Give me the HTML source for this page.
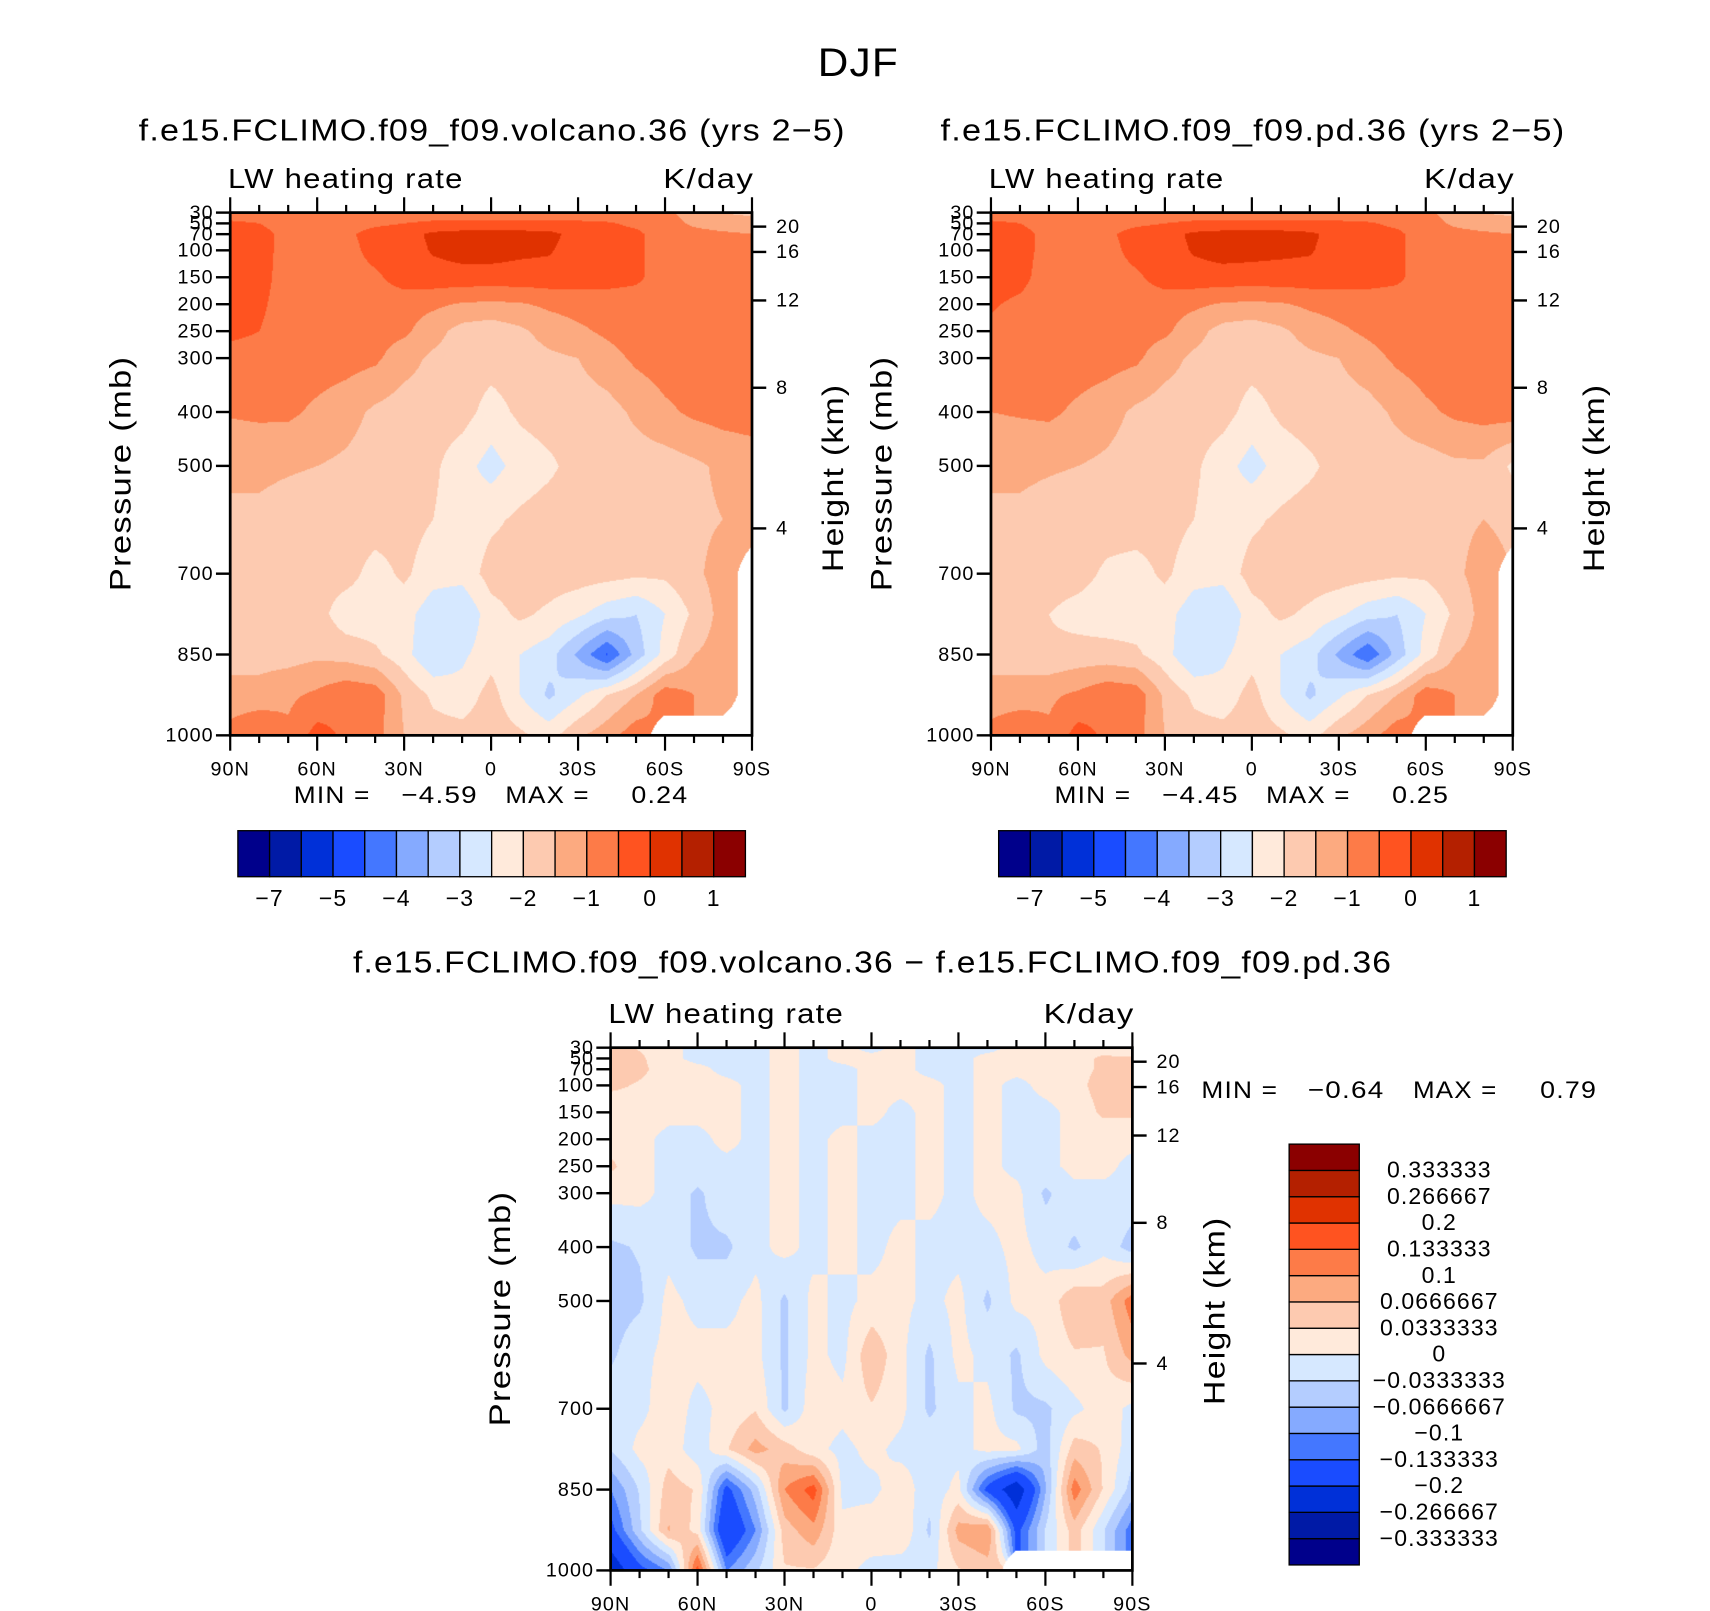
<!DOCTYPE html>
<html><head><meta charset="utf-8">
<style>
html,body{margin:0;padding:0;background:#fff;width:1710px;height:1611px;overflow:hidden;}
#root{position:absolute;left:0;top:0;width:1560px;height:1470px;transform-origin:0 0;transform:scale(1.0962,1.0959);}
canvas{position:absolute;}
svg{position:absolute;left:0;top:0;}
text{font-family:"Liberation Sans",sans-serif;fill:#000;letter-spacing:1px;}
</style></head>
<body>
<div id="root">
<canvas id="cL" width="476" height="477" style="left:210px;top:194px"></canvas>
<canvas id="cR" width="476" height="477" style="left:904px;top:194px"></canvas>
<canvas id="cD" width="476" height="477" style="left:557px;top:956px"></canvas>
<svg id="ov" width="1560" height="1470" viewBox="0 0 1560 1470"></svg>
</div>
<script>
// ---- data ----
const lats = [90,80,70,60,50,40,30,20,10,0,-10,-20,-30,-40,-50,-60,-70,-80,-90];
const latTickLabels = ["90N","60N","30N","0","30S","60S","90S"];
const presLevels = [30,50,70,100,150,200,250,300,400,500,600,700,775,850,925,1000];
const presTickLabels = [30,50,70,100,150,200,250,300,400,500,700,850,1000];
const heightTickLabels = [20,16,12,8,4];
const heightTickPres = [56,103,193,355,616];
const N = NaN;
const volcanoValues = [
[-0.8,-0.8,-0.8,-0.8,-0.8,-0.8,-0.8,-0.8,-0.8,-0.8,-0.8,-0.8,-0.8,-0.8,-0.8,-0.9,-1.2,-1.5,-1.6],
[-0.4,-0.5,-0.75,-0.75,-0.75,-0.6,-0.5,-0.4,-0.4,-0.4,-0.4,-0.4,-0.4,-0.45,-0.6,-0.75,-1.1,-1.3,-1.3],
[-0.25,-0.3,-0.7,-0.75,-0.6,-0.3,-0.2,0.1,0.2,0.2,0.2,0.15,-0.2,-0.3,-0.4,-0.75,-0.8,-0.9,-1.0],
[-0.25,-0.3,-0.7,-0.75,-0.7,-0.3,-0.25,0.05,0.2,0.2,0.1,0.05,-0.25,-0.3,-0.4,-0.75,-0.75,-0.75,-0.75],
[-0.25,-0.3,-0.75,-0.75,-0.75,-0.6,-0.25,-0.2,-0.2,-0.2,-0.2,-0.2,-0.25,-0.3,-0.4,-0.75,-0.75,-0.75,-0.75],
[-0.25,-0.4,-0.75,-0.75,-0.75,-0.75,-0.8,-0.9,-1.05,-1.1,-1.05,-0.9,-0.8,-0.75,-0.75,-0.75,-0.75,-0.75,-0.75],
[-0.35,-0.5,-0.75,-0.75,-0.75,-0.8,-0.9,-1.3,-1.7,-1.8,-1.6,-1.3,-1.1,-0.9,-0.75,-0.75,-0.75,-0.75,-0.75],
[-0.75,-0.75,-0.75,-0.75,-0.8,-0.9,-1.3,-1.6,-1.75,-1.8,-1.75,-1.6,-1.5,-1.2,-0.9,-0.75,-0.75,-0.75,-0.75],
[-0.95,-0.9,-0.9,-1.1,-1.3,-1.6,-1.75,-1.75,-1.8,-2.2,-1.9,-1.75,-1.75,-1.7,-1.4,-1.1,-0.9,-0.8,-0.75],
[-1.4,-1.4,-1.45,-1.5,-1.6,-1.75,-1.8,-1.9,-2.3,-2.7,-2.3,-2.1,-1.8,-1.75,-1.75,-1.75,-1.6,-1.4,-1.3],
[-1.6,-1.6,-1.7,-1.75,-1.75,-1.75,-1.8,-2.0,-2.3,-2.1,-1.9,-1.75,-1.75,-1.75,-1.75,-1.7,-1.6,-1.5,-1.45],
[-1.75,-1.75,-1.75,-1.8,-1.8,-2.2,-1.9,-2.3,-2.3,-1.8,-1.75,-1.75,-1.75,-1.8,-1.9,-1.9,-1.6,-1.3,N],
[-1.75,-1.75,-2.0,-1.8,-2.3,-2.3,-2.3,-2.8,-3.0,-2.2,-1.9,-2.1,-2.4,-2.8,-3.0,-2.5,-1.9,-1.3,N],
[-1.7,-1.7,-1.7,-1.6,-1.7,-1.9,-2.3,-3.0,-2.6,-2.2,-2.5,-2.8,-3.6,-4.55,-3.3,-2.3,-1.5,-1.3,N],
[-1.3,-1.3,-1.1,-0.9,-0.6,-0.7,-1.6,-2.1,-2.3,-1.8,-2.5,-3.1,-2.6,-2.0,-1.5,-0.7,-1.0,-1.3,N],
[-0.8,-0.5,-0.9,-0.3,-0.6,-0.8,-1.5,-1.8,-1.8,-1.7,-1.9,-2.2,-1.6,-1.2,-0.7,N,N,N,N]];
const pdValues = [
[-0.8,-0.8,-0.8,-0.8,-0.8,-0.8,-0.8,-0.8,-0.8,-0.8,-0.8,-0.8,-0.8,-0.8,-0.8,-0.9,-1.2,-1.5,-1.6],
[-0.4,-0.5,-0.75,-0.75,-0.75,-0.6,-0.5,-0.4,-0.4,-0.4,-0.4,-0.4,-0.4,-0.45,-0.6,-0.75,-1.1,-1.3,-1.3],
[-0.25,-0.3,-0.7,-0.75,-0.6,-0.3,-0.2,0.1,0.2,0.2,0.2,0.1,-0.2,-0.3,-0.4,-0.75,-0.8,-0.9,-1.0],
[-0.25,-0.3,-0.7,-0.75,-0.7,-0.3,-0.25,0.05,0.2,0.15,0.1,0.05,-0.25,-0.3,-0.4,-0.75,-0.75,-0.75,-0.75],
[-0.25,-0.35,-0.75,-0.75,-0.75,-0.6,-0.25,-0.2,-0.2,-0.2,-0.2,-0.2,-0.25,-0.3,-0.4,-0.75,-0.75,-0.75,-0.75],
[-0.45,-0.6,-0.75,-0.75,-0.75,-0.75,-0.8,-0.9,-1.05,-1.1,-1.05,-0.9,-0.8,-0.75,-0.75,-0.75,-0.75,-0.75,-0.75],
[-0.6,-0.7,-0.75,-0.75,-0.75,-0.8,-0.9,-1.3,-1.7,-1.8,-1.6,-1.3,-1.1,-0.9,-0.75,-0.75,-0.75,-0.75,-0.75],
[-0.75,-0.75,-0.75,-0.75,-0.8,-0.9,-1.3,-1.6,-1.75,-1.8,-1.75,-1.6,-1.5,-1.2,-0.9,-0.75,-0.75,-0.75,-0.75],
[-1.0,-0.95,-0.9,-1.1,-1.3,-1.6,-1.75,-1.75,-1.8,-2.2,-1.9,-1.75,-1.75,-1.7,-1.4,-1.1,-0.9,-0.8,-0.75],
[-1.4,-1.4,-1.45,-1.5,-1.6,-1.75,-1.8,-1.9,-2.3,-2.7,-2.3,-2.1,-1.8,-1.75,-1.75,-1.75,-1.6,-1.6,-2.1],
[-1.6,-1.6,-1.7,-1.75,-1.75,-1.75,-1.8,-2.0,-2.3,-2.1,-1.9,-1.75,-1.75,-1.75,-1.75,-1.7,-1.6,-1.5,-1.6],
[-1.75,-1.75,-1.75,-1.8,-2.1,-2.2,-1.9,-2.3,-2.3,-1.8,-1.75,-1.75,-1.75,-1.8,-1.9,-1.9,-1.6,-1.3,N],
[-1.75,-1.75,-2.0,-2.2,-2.3,-2.3,-2.3,-2.8,-3.0,-2.2,-1.9,-2.1,-2.4,-2.8,-3.0,-2.5,-1.9,-1.3,N],
[-1.7,-1.7,-1.9,-1.8,-1.8,-1.9,-2.3,-3.0,-2.6,-2.2,-2.5,-2.8,-3.6,-4.45,-3.3,-2.3,-1.5,-1.3,N],
[-1.3,-1.3,-1.1,-0.9,-0.6,-0.7,-1.6,-2.1,-2.3,-1.8,-2.5,-3.1,-2.6,-2.0,-1.5,-0.7,-1.0,-1.3,N],
[-0.8,-0.5,-0.9,-0.3,-0.6,-0.8,-1.5,-1.8,-1.8,-1.7,-1.9,-2.2,-1.6,-1.2,-0.7,N,N,N,N]];
const diffValues = [
[0.05,0.03,0.01,-0.01,-0.01,-0.01,0.01,-0.01,0.01,-0.01,0.01,-0.01,-0.01,-0.01,0.01,0.01,0.01,0.02,-0.01],
[0.05,0.04,0.01,-0.01,-0.01,-0.01,0.01,-0.01,0.01,0.01,0.01,-0.01,-0.01,0.01,0.01,0.01,0.02,0.04,0.04],
[0.05,0.04,0.02,0.01,-0.01,-0.01,0.01,-0.01,-0.01,0.01,0.01,-0.01,-0.01,0.01,0.01,0.01,0.02,0.04,0.05],
[0.04,0.03,0.02,0.01,0.01,-0.01,0.01,-0.01,-0.01,0.01,0.01,0.01,-0.01,0.01,-0.01,0.01,0.02,0.05,0.05],
[0.01,0.02,0.01,0.01,0.01,-0.01,0.01,-0.01,-0.01,0.01,-0.01,0.01,-0.01,0.01,-0.01,-0.01,0.01,0.04,0.04],
[0.02,0.01,-0.01,-0.01,0.01,-0.01,0.01,-0.01,0.01,-0.01,-0.01,0.01,-0.01,0.01,-0.01,-0.01,0.01,0.01,0.01],
[0.04,0.01,-0.01,-0.01,-0.01,-0.01,0.01,-0.01,0.01,-0.01,-0.01,0.01,-0.01,0.01,-0.01,-0.01,0.01,0.01,-0.01],
[0.01,0.01,-0.01,-0.04,-0.01,-0.01,0.01,-0.01,0.01,-0.01,-0.01,0.01,-0.01,0.01,0.01,-0.04,-0.01,-0.01,-0.01],
[-0.04,-0.03,-0.01,-0.04,-0.04,-0.01,0.01,-0.01,0.01,-0.01,0.01,-0.01,-0.01,-0.01,0.01,-0.01,-0.04,-0.01,-0.05],
[-0.05,-0.04,0.01,-0.01,-0.01,0.01,-0.04,0.01,-0.01,0.01,0.01,-0.01,0.01,-0.04,0.01,0.01,0.06,0.05,0.12],
[-0.04,-0.01,0.01,0.01,0.01,0.01,-0.04,0.01,-0.01,0.06,0.01,-0.04,0.01,-0.01,-0.04,0.01,0.03,0.03,0.08],
[-0.01,-0.01,0.02,-0.01,0.01,0.03,-0.04,0.02,0.01,0.03,0.01,-0.04,-0.01,0.01,-0.04,-0.04,-0.01,0.02,-0.01],
[-0.03,0.01,0.02,-0.02,0.03,0.08,0.05,0.01,-0.01,0.01,-0.01,-0.01,-0.01,0.01,0.01,-0.05,0.05,0.03,-0.02],
[-0.1,-0.03,0.05,0.03,-0.15,-0.05,0.1,0.15,-0.01,-0.01,0.02,-0.02,0.01,-0.15,-0.25,-0.07,0.12,0.03,-0.05],
[-0.15,-0.04,0.07,0.02,-0.2,-0.1,0.05,0.09,0.01,0.02,0.03,-0.04,0.08,0.1,-0.15,-0.03,0.05,-0.03,-0.12],
[-0.25,-0.15,-0.1,0.15,-0.1,-0.04,0.03,0.03,0.01,-0.01,-0.02,-0.01,0.03,0.05,N,N,N,N,N]];
const absLevels = [-7,-6,-5,-4.5,-4,-3.5,-3,-2.5,-2,-1.5,-1,-0.5,0,0.5,1];
const absLevelLabels = ["−7","−5","−4","−3","−2","−1","0","1"];
const diffLevels = [-0.333333,-0.266667,-0.2,-0.133333,-0.1,-0.0666667,-0.0333333,0,0.0333333,0.0666667,0.1,0.133333,0.2,0.266667,0.333333];
const diffLevelLabels = ["−0.333333","−0.266667","−0.2","−0.133333","−0.1","−0.0666667","−0.0333333","0","0.0333333","0.0666667","0.1","0.133333","0.2","0.266667","0.333333"];
const colors = ["#00008b","#001aa6","#0030d8","#1a4cff","#4477ff","#85aaff","#b4cdff","#d6e8ff","#ffeadb","#fdcab0","#fcaa80","#fd7b48","#ff5320","#e03200","#b42000","#8b0000"];

// ---- helpers ----
const W=476,H=477;
function yOfP(p,y0){return y0+(p-30)/970*H;}
function xOfLat(lat,x0){return x0+(90-lat)/180*W;}
function sample(grid,lat,p){
  const f=(90-lat)/10; let c=Math.min(Math.floor(f),lats.length-2); const fx=f-c;
  let r=0; while(r<presLevels.length-2 && p>presLevels[r+1]) r++;
  const fy=(p-presLevels[r])/(presLevels[r+1]-presLevels[r]);
  const vals=[grid[r][c],grid[r][c+1],grid[r+1][c],grid[r+1][c+1]];
  const wts=[(1-fx)*(1-fy),fx*(1-fy),(1-fx)*fy,fx*fy];
  let s=0,ws=0,wn=0;
  for(let i=0;i<4;i++){if(isNaN(vals[i]))wn+=wts[i];else{s+=vals[i]*wts[i];ws+=wts[i];}}
  if(wn>0.5||ws===0) return NaN;
  return s/ws;
}
function binOf(v,levels){let i=0;while(i<levels.length&&v>=levels[i])i++;return i;}
function hex(h){return [parseInt(h.slice(1,3),16),parseInt(h.slice(3,5),16),parseInt(h.slice(5,7),16)];}
const rgb=colors.map(hex);
function drawField(id,grid,levels){
  const cv=document.getElementById(id),ctx=cv.getContext('2d');
  const img=ctx.createImageData(W,H);
  for(let py=0;py<H;py++){const p=30+970*(py+0.5)/H;
    for(let px=0;px<W;px++){const lat=90-180*(px+0.5)/W;
      const v=sample(grid,lat,p);const k=(py*W+px)*4;
      if(isNaN(v)){img.data[k]=255;img.data[k+1]=255;img.data[k+2]=255;img.data[k+3]=255;continue;}
      const c=rgb[binOf(v,levels)];img.data[k]=c[0];img.data[k+1]=c[1];img.data[k+2]=c[2];img.data[k+3]=255;}}
  ctx.putImageData(img,0,0);
}
drawField('cL',volcanoValues,absLevels);
drawField('cR',pdValues,absLevels);
drawField('cD',diffValues,diffLevels);

const svg=document.getElementById('ov');const NS='http://www.w3.org/2000/svg';
function el(tag,attrs,parent){const e=document.createElementNS(NS,tag);for(const k in attrs)e.setAttribute(k,attrs[k]);(parent||svg).appendChild(e);return e;}
function txt(s,x,y,size,anchor,name,extra){const t=el('text',Object.assign({x:x,y:y,'font-size':size,'text-anchor':anchor||'start','dominant-baseline':'middle'},extra||{}));t.textContent=s;


return t;}
function fit(len){return {textLength:len,lengthAdjust:'spacingAndGlyphs'};}

function axes(x0,y0,pfx){
  const g=el('g',{});
  
  
  presTickLabels.forEach(p=>{const y=yOfP(p,y0);
    el('line',{x1:x0-13,x2:x0,y1:y,y2:y,stroke:'#000','stroke-width':2.2},g);
    txt(String(p),x0-15,y+1,18,'end',pfx+'-pressure-label-'+p);});
  heightTickLabels.forEach((h,i)=>{const y=yOfP(heightTickPres[i],y0);
    el('line',{x1:x0+W,x2:x0+W+13,y1:y,y2:y,stroke:'#000','stroke-width':2.2},g);
    txt(String(h),x0+W+22,y+1,18,'start',pfx+'-height-label-'+h);});
  for(let lat=90;lat>=-90;lat-=10){const x=xOfLat(lat,x0);const major=(lat%30===0);const L=major?14:7;
    el('line',{x1:x,x2:x,y1:y0+H,y2:y0+H+L,stroke:'#000','stroke-width':2},g);
    el('line',{x1:x,x2:x,y1:y0,y2:y0-L,stroke:'#000','stroke-width':2},g);}
  latTickLabels.forEach((s,i)=>{txt(s,x0+i*W/6,y0+H+32,18,'middle',pfx+'-lat-label-'+s);});
  el('rect',{x:x0,y:y0,width:W,height:H,fill:'none',stroke:'#000','stroke-width':2.5},g);
  txt('LW heating rate',x0-2,y0-29,25,'start',pfx+'-variable-label',fit(215));
  txt('K/day',x0+W+2,y0-29,25,'end',pfx+'-units-label',fit(83));
}
axes(210,194,'volcano');axes(904,194,'pd');axes(557,956,'diff');

txt('DJF',783,60,36,'middle','figure-title',fit(74));
txt('f.e15.FCLIMO.f09_f09.volcano.36 (yrs 2−5)',449,121,28,'middle','volcano-title',fit(645));
txt('f.e15.FCLIMO.f09_f09.pd.36 (yrs 2−5)',1143,121,28,'middle','pd-title',fit(570));
txt('f.e15.FCLIMO.f09_f09.volcano.36 − f.e15.FCLIMO.f09_f09.pd.36',796,880,28,'middle','diff-title',fit(948));
txt('Pressure (mb)',112,432,27,'middle','volcano-y-axis-title',Object.assign({transform:'rotate(-90 112 432)'},fit(215)));
txt('Height (km)',762,436,27,'middle','volcano-right-axis-title',Object.assign({transform:'rotate(-90 762 436)'},fit(172)));
txt('Pressure (mb)',806,432,27,'middle','pd-y-axis-title',Object.assign({transform:'rotate(-90 806 432)'},fit(215)));
txt('Height (km)',1456,436,27,'middle','pd-right-axis-title',Object.assign({transform:'rotate(-90 1456 436)'},fit(172)));
txt('Pressure (mb)',458,1194,27,'middle','diff-y-axis-title',Object.assign({transform:'rotate(-90 458 1194)'},fit(215)));
txt('Height (km)',1110,1196,27,'middle','diff-right-axis-title',Object.assign({transform:'rotate(-90 1110 1196)'},fit(172)));

function minmax(x,y,vals,pfx,gaps){
  txt('MIN =',x,y,22,'start',pfx+'-min-label',fit(70));
  txt(vals[0],x+gaps[0],y,22,'start',pfx+'-min-value',fit(70));
  txt('MAX =',x+gaps[1],y,22,'start',pfx+'-max-label',fit(77));
  txt(vals[1],x+gaps[2],y,22,'start',pfx+'-max-value',fit(52));
}
minmax(268,727,['−4.59','0.24'],'volcano',[98,193,308]);
minmax(962,727,['−4.45','0.25'],'pd',[98,193,308]);
minmax(1096,996,['−0.64','0.79'],'diff',[97,193,309]);

function hbar(x0,pfx){const y0=758,w=463,h=42,bw=w/16;
  const g=el('g',{});
  
  
  colors.forEach((c,i)=>{const r=el('rect',{x:x0+i*bw,y:y0,width:bw,height:h,fill:c,stroke:'#000','stroke-width':1.2},g);
    
    });
  absLevelLabels.forEach((s,i)=>{txt(s,x0+(2*i+1)*bw,821,21,'middle',pfx+'-colorbar-label');});
}
hbar(217,'volcano');hbar(911,'pd');

(function(){const x0=1176,y0=1044,w=64,bh=24;
  const g=el('g',{});
  
  
  colors.forEach((c,i)=>{const r=el('rect',{x:x0,y:y0+(15-i)*bh,width:w,height:bh,fill:c,stroke:'#000','stroke-width':1.2},g);
    
    });
  diffLevelLabels.forEach((s,i)=>{txt(s,1313,y0+(15-i)*bh+1,21,'middle','diff-colorbar-label');});
})();
</script>
</body></html>
